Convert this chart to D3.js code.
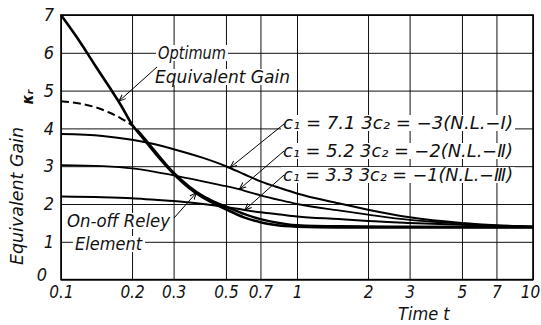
<!DOCTYPE html>
<html>
<head>
<meta charset="utf-8">
<script src="https://cdn.jsdelivr.net/npm/d3@7"></script>
<style>
  body { margin: 0; background: #fff; }
  svg text {
    font-family: "DejaVu Sans Condensed", "DejaVu Sans", sans-serif;
    font-style: italic;
    font-stretch: condensed;
    fill: #111;
  }
</style>
</head>
<body>
<svg id="chart" width="541" height="325"></svg>
<script>
// tick values
const xTicks = [0.1, 0.2, 0.3, 0.5, 0.7, 1, 2, 3, 5, 7, 10];
const yTicks = [0, 1, 2, 3, 4, 5, 6, 7];

// optimum equivalent gain
const optT = [0.1, 0.12, 0.14, 0.16, 0.18, 0.2, 0.22, 0.25, 0.3, 0.35, 0.4, 0.45, 0.5, 0.6, 0.7, 0.8, 1, 1.5, 10];
const optK = [7.0, 6.3, 5.65, 5.1, 4.6, 4.1, 3.78, 3.35, 2.8, 2.42, 2.17, 2.0, 1.86, 1.64, 1.52, 1.45, 1.40, 1.38, 1.38];

// on-off relay element (dashed part, then solid)
const relayDashT = [0.1, 0.12, 0.14, 0.16, 0.18, 0.2, 0.21];
const relayDashK = [4.72, 4.66, 4.56, 4.42, 4.26, 4.08, 3.96];
const relayT = [0.21, 0.22, 0.25, 0.3, 0.35, 0.4, 0.45, 0.5, 0.6, 0.7, 0.8, 1, 1.5, 3, 10];
const relayK = [3.96, 3.82, 3.4, 2.83, 2.46, 2.21, 2.05, 1.93, 1.73, 1.6, 1.52, 1.44, 1.41, 1.40, 1.39];

// nonlinear elements
const nlT = [0.1, 0.15, 0.2, 0.25, 0.3, 0.4, 0.5, 0.6, 0.7, 0.85, 1, 1.5, 2, 3, 5, 7, 10];
const nl1K = [3.85, 3.8, 3.7, 3.58, 3.45, 3.22, 3.0, 2.78, 2.6, 2.42, 2.28, 2.02, 1.85, 1.65, 1.5, 1.44, 1.4];
const nl2K = [3.03, 3.0, 2.94, 2.85, 2.76, 2.6, 2.47, 2.35, 2.23, 2.1, 2.0, 1.83, 1.72, 1.58, 1.48, 1.43, 1.4];
const nl3K = [2.2, 2.18, 2.15, 2.11, 2.08, 2.0, 1.92, 1.84, 1.78, 1.72, 1.67, 1.6, 1.55, 1.5, 1.45, 1.42, 1.4];

const nlLabels = [
  "c\u2081 = 7.1  3c\u2082 = \u22123(N.L.\u2212\u2160)",
  "c\u2081 = 5.2  3c\u2082 = \u22122(N.L.\u2212\u2161)",
  "c\u2081 = 3.3  3c\u2082 = \u22121(N.L.\u2212\u2162)"
];
// where each leader touches its curve
const nlPoint = [[0.52, 2.96], [0.57, 2.39], [0.6, 1.84]];

const svg = d3.select("#chart");
const m = { left: 61, right: 533, top: 15, bottom: 279.6 };

const x = d3.scaleLog().domain([0.1, 10]).range([m.left, m.right]);
const y = d3.scaleLinear().domain([0, 7]).range([m.bottom, m.top]);

const zip = (ts, ks) => ts.map((t, i) => [t, ks[i]]);
const line = d3.line().x(d => x(d[0])).y(d => y(d[1])).curve(d3.curveMonotoneX);

// grid via axes
const gx = svg.append("g")
  .attr("transform", `translate(0,${m.bottom})`)
  .call(d3.axisBottom(x).tickValues(xTicks).tickSize(-(m.bottom - m.top)).tickPadding(5)
    .tickFormat(d => String(d)));
gx.select(".domain").remove();
gx.selectAll("line").attr("stroke", "#111").attr("stroke-width", 1);
gx.selectAll("text").attr("font-size", 17).attr("fill", "#111").attr("dy", "0.8em");
gx.selectAll(".tick").filter(d => d === 10).select("text").attr("dx", -3);

const gy = svg.append("g")
  .attr("transform", `translate(${m.left},0)`)
  .call(d3.axisLeft(y).tickValues(yTicks).tickSize(-(m.right - m.left)).tickPadding(7)
    .tickFormat(d3.format("d")));
gy.select(".domain").remove();
gy.selectAll("line").attr("stroke", "#111").attr("stroke-width", 1);
gy.selectAll("text").attr("font-size", 18).attr("fill", "#111");
gy.selectAll(".tick").filter(d => d === 0).select("text").attr("dx", -7).attr("dy", "0.05em");

// frame
svg.append("rect")
  .attr("x", m.left).attr("y", m.top)
  .attr("width", m.right - m.left).attr("height", m.bottom - m.top)
  .attr("fill", "none").attr("stroke", "#000").attr("stroke-width", 1.6);

// label helper with white background
function label(text, px, py, len, size) {
  const g = svg.append("g");
  const t = g.append("text").attr("x", px).attr("y", py)
    .attr("font-size", size).attr("textLength", len).attr("lengthAdjust", "spacingAndGlyphs")
    .text(text);
  const b = t.node().getBBox();
  g.insert("rect", "text")
    .attr("x", b.x - 2).attr("y", b.y + 2).attr("width", b.width + 4).attr("height", b.height - 4)
    .attr("fill", "#fff");
  return g;
}

svg.append("defs").append("marker")
  .attr("id", "arr").attr("viewBox", "0 0 10 10").attr("refX", 10).attr("refY", 5)
  .attr("markerWidth", 7).attr("markerHeight", 7).attr("orient", "auto")
  .append("path").attr("d", "M0,1 L10,5 L0,9").attr("fill", "none").attr("stroke", "#000").attr("stroke-width", 1.4);

// annotations
label("Optimum", 158, 59, 68, 17);
label("Equivalent  Gain", 155, 83, 135, 17);
label("On-off  Reley", 67, 227, 103, 17);
label("Element", 75, 250, 67, 17);
nlLabels.forEach((s, i) => label(s, 283, [129, 157, 181][i], 230, 17));

// curves
svg.append("path").datum(zip(nlT, nl1K)).attr("d", line)
  .attr("fill", "none").attr("stroke", "#000").attr("stroke-width", 2);
svg.append("path").datum(zip(nlT, nl2K)).attr("d", line)
  .attr("fill", "none").attr("stroke", "#000").attr("stroke-width", 1.8);
svg.append("path").datum(zip(nlT, nl3K)).attr("d", line)
  .attr("fill", "none").attr("stroke", "#000").attr("stroke-width", 2);
svg.append("path").datum(zip(relayDashT, relayDashK)).attr("d", line)
  .attr("fill", "none").attr("stroke", "#000").attr("stroke-width", 2).attr("stroke-dasharray", "8,4");
svg.append("path").datum(zip(relayT, relayK)).attr("d", line)
  .attr("fill", "none").attr("stroke", "#000").attr("stroke-width", 2.4);
svg.append("path").datum(zip(optT, optK)).attr("d", line)
  .attr("fill", "none").attr("stroke", "#000").attr("stroke-width", 2.6);

// leader lines
const leaders = [
  { from: [157, 67], to: [0.176, 4.72] },
  { from: [174, 218], to: [0.375, 2.3] },
  { from: [284, 124], to: nlPoint[0] },
  { from: [284, 151], to: nlPoint[1] },
  { from: [284, 175], to: nlPoint[2] }
];
leaders.forEach(l => {
  svg.append("line")
    .attr("x1", l.from[0]).attr("y1", l.from[1])
    .attr("x2", x(l.to[0])).attr("y2", y(l.to[1]))
    .attr("stroke", "#000").attr("stroke-width", 1)
    .attr("marker-end", "url(#arr)");
});

// axis titles
svg.append("text").attr("x", 398).attr("y", 320).attr("font-size", 18).text("Time   t");
svg.append("text").attr("transform", "translate(23,196) rotate(-90)")
  .attr("text-anchor", "middle").attr("font-size", 18).attr("textLength", 138)
  .attr("lengthAdjust", "spacingAndGlyphs").text("Equivalent  Gain");
svg.append("text").attr("transform", "translate(33,97) rotate(-90)")
  .attr("text-anchor", "middle").attr("font-size", 16).attr("font-weight", "bold").text("\u03ba\u1d63");
</script>
</body>
</html>
